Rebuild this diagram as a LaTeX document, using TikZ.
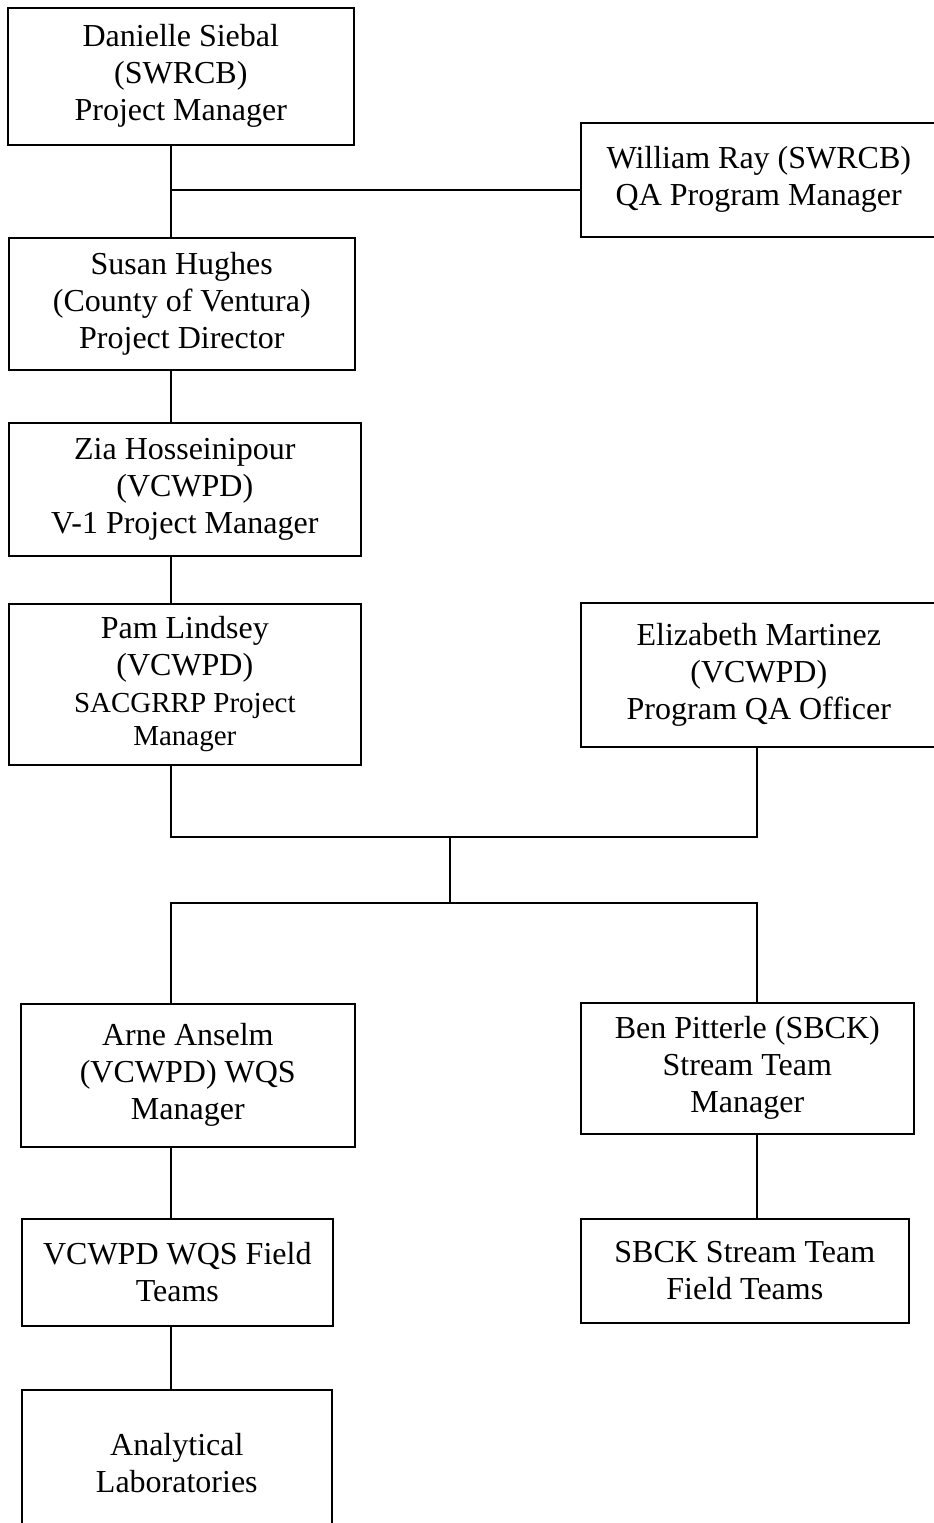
\documentclass[tikz,border=0pt]{standalone}
\usepackage{fontspec}
\setmainfont{Liberation Serif}

\tikzset{
  box/.style={draw, line width=1.6pt, align=center, inner sep=0pt, anchor=north west,
    font=\fontsize{32}{37}\selectfont},
  link/.style={line width=1.6pt}
}
\newcommand{\smalltxt}{\fontsize{29}{33}\selectfont}

\begin{document}
\begin{tikzpicture}[x=1pt, y=-1pt]
    \useasboundingbox (0,0) rectangle (934,1523);
    \coordinate (spine) at (171,0);
    \coordinate (rspine) at (757,0);
    \coordinate (tie) at (171,190);
    \coordinate (join) at (450,837);
    \coordinate (split) at (450,903);

    \node[box, minimum width=346pt, minimum height=137pt] (dsb) at (7,7) {Danielle Siebal\\(SWRCB)\\Project Manager};
    \node[box, minimum width=356pt, minimum height=114pt] (wry) at (580,122) {William Ray (SWRCB)\\QA Program Manager};
    \node[box, minimum width=346pt, minimum height=132pt] (shu) at (8,237) {Susan Hughes\\(County of Ventura)\\Project Director};
    \node[box, minimum width=352pt, minimum height=133pt] (zia) at (8,422) {Zia Hosseinipour\\(VCWPD)\\V-1 Project Manager};
    \node[box, minimum width=352pt, minimum height=161pt] (pam) at (8,603) {Pam Lindsey\\(VCWPD)\\{\smalltxt SACGRRP Project}\\[-4pt]{\smalltxt Manager}};
    \node[box, minimum width=356pt, minimum height=144pt] (emz) at (580,602) {Elizabeth Martinez\\(VCWPD)\\Program QA Officer};
    \node[box, minimum width=334pt, minimum height=143pt] (aan) at (20,1003) {Arne Anselm\\(VCWPD) WQS\\Manager};
    \node[box, minimum width=333pt, minimum height=131pt] (bpt) at (580,1002) {Ben Pitterle (SBCK)\\Stream Team\\Manager};
    \node[box, minimum width=311pt, minimum height=107pt] (wqs) at (21,1218) {VCWPD WQS Field\\Teams};
    \node[box, minimum width=328pt, minimum height=104pt] (sbk) at (580,1218) {SBCK Stream Team\\Field Teams};
    \node[box, minimum width=310pt, minimum height=146pt] (lab) at (21,1389) {Analytical\\Laboratories};

    \draw[link] (dsb.south -| spine) -- (shu.north -| spine);
    \draw[link] (tie) -- (tie -| wry.west);
    \draw[link] (shu.south -| spine) -- (zia.north -| spine);
    \draw[link] (zia.south -| spine) -- (pam.north -| spine);
    \draw[link] (pam.south -| spine) |- (join) -| (emz.south -| rspine);
    \draw[link] (join) -- (split);
    \draw[link] (aan.north -| spine) |- (split) -| (bpt.north -| rspine);
    \draw[link] (aan.south -| spine) -- (wqs.north -| spine);
    \draw[link] (bpt.south -| rspine) -- (sbk.north -| rspine);
    \draw[link] (wqs.south -| spine) -- (lab.north -| spine);
\end{tikzpicture}
\end{document}
